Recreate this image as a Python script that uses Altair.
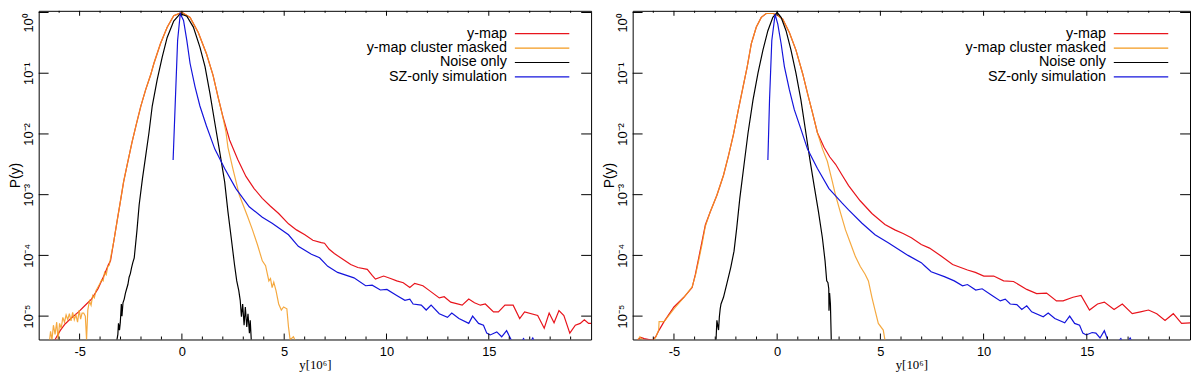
import altair as alt
import pandas as pd

# ---------------- data (x in 1e-6 units, log10 P(y)) ----------------
SERIES = ["y-map", "y-map cluster masked", "Noise only", "SZ-only simulation"]
COLORS = ["#e8141c", "#f39a1e", "#000000", "#1414dc"]

X_MAJOR_TICKS = [-5, 0, 5, 10, 15]
X_MINOR_TICKS = [-6, -4, -3, -2, -1, 1, 2, 3, 4, 6, 7, 8, 9, 11, 12, 13, 14, 16, 17, 18, 19]
Y_TICKS = [1, 0.1, 0.01, 0.001, 0.0001, 0.00001]
Y_TICK_LABELS = ["10⁰", "10⁻¹", "10⁻²", "10⁻³", "10⁻⁴", "10⁻⁵"]

# ----- left panel -----
L_YMAP_X = [-6.3, -6.19, -5.95, -5.71, -5.40, -5.05, -4.75, -4.42, -4.10, -3.78, -3.60, -3.49, -3.33, -3.17,
            -3.01, -2.85, -2.65, -2.44, -2.25, -2.01, -1.77, -1.53, -1.37, -1.05, -0.72, -0.40, 0.0, 0.40,
            0.80, 1.20, 1.52, 1.76, 2.00, 2.33, 2.73, 3.13, 3.53, 3.93, 4.33, 4.73, 5.21, 5.60, 6.01, 6.40,
            6.81, 6.97, 7.20, 7.45, 7.94, 8.25, 8.60, 9.06, 9.30, 9.46, 9.86, 10.2, 10.5, 10.82, 11.14, 11.38,
            11.78, 12.1, 12.58, 12.82, 13.14, 13.70, 14.02, 14.3, 14.59, 14.83, 15.23, 15.47, 15.79, 16.19,
            16.51, 16.75, 17.39, 17.71, 17.95, 18.19, 18.43, 18.67, 18.96, 19.23, 19.47, 19.67, 19.88, 20.0]
L_YMAP_LOGP = [-5.45, -5.38, -5.24, -5.13, -5.03, -4.93, -4.83, -4.72, -4.55, -4.31, -4.16, -4.09, -3.77, -3.44,
               -3.12, -2.79, -2.47, -2.14, -1.87, -1.545, -1.27, -1.03, -0.84, -0.515, -0.244, -0.054, 0.0, -0.08,
               -0.33, -0.68, -1.03, -1.38, -1.71, -2.10, -2.42, -2.70, -2.90, -3.06, -3.19, -3.31, -3.48, -3.58,
               -3.66, -3.75, -3.79, -3.80, -3.90, -3.97, -4.08, -4.15, -4.20, -4.23, -4.33, -4.39, -4.34, -4.38,
               -4.42, -4.45, -4.53, -4.46, -4.50, -4.58, -4.70, -4.68, -4.77, -4.82, -4.72, -4.78, -4.82, -4.80,
               -4.93, -4.93, -4.82, -4.82, -5.04, -4.93, -4.99, -5.20, -4.95, -5.11, -4.91, -4.99, -5.28, -5.15,
               -5.12, -5.06, -5.12, -5.12]

L_MASK_X = [-6.5, -6.42, -6.35, -6.28, -6.2, -6.12, -6.05, -5.98, -5.90, -5.82, -5.74, -5.66, -5.58, -5.50,
            -5.42, -5.34, -5.26, -5.18, -5.10, -5.02, -4.95, -4.88, -4.80, -4.72, -4.66, -4.60, -4.52, -4.44,
            -4.36, -4.28, -4.20, -4.10, -4.00, -3.92, -3.85, -3.78, -3.70, -3.62, -3.55, -3.49, -3.33, -3.17,
            -3.01, -2.85, -2.65, -2.44, -2.25, -2.01, -1.77, -1.53, -1.37, -1.05, -0.72, -0.40, 0.0, 0.40,
            0.80, 1.20, 1.52, 1.76, 2.00, 2.15, 2.25, 2.49, 2.81, 3.21, 3.45, 3.69, 3.93, 4.09, 4.25, 4.33,
            4.41, 4.49, 4.60, 4.73, 4.86, 4.97, 5.13, 5.21, 5.29, 5.45, 5.61, 5.75, 5.85]
L_MASK_LOGP = [-5.50, -5.25, -5.39, -5.15, -5.30, -5.10, -5.39, -5.12, -5.20, -5.02, -5.10, -4.98, -5.06, -4.96,
               -5.08, -4.94, -5.06, -4.98, -5.10, -4.90, -5.05, -4.95, -4.95, -5.00, -5.39, -4.90, -4.75, -4.82,
               -4.66, -4.70, -4.58, -4.52, -4.46, -4.40, -4.42, -4.28, -4.32, -4.18, -4.16, -4.05, -3.77, -3.44,
               -3.12, -2.79, -2.47, -2.14, -1.87, -1.545, -1.27, -1.03, -0.84, -0.515, -0.244, -0.054, 0.0, -0.08,
               -0.33, -0.68, -1.03, -1.38, -1.72, -1.96, -2.22, -2.57, -3.01, -3.36, -3.58, -3.82, -4.09, -4.17,
               -4.42, -4.38, -4.53, -4.44, -4.58, -4.80, -4.90, -4.85, -4.88, -5.18, -5.39, -5.34, -5.45, -5.40,
               -5.50]

L_NOISE_X = [-3.25, -3.17, -3.13, -3.10, -3.05, -3.01, -2.96, -2.93, -2.88, -2.82, -2.76, -2.70, -2.64, -2.58,
             -2.52, -2.46, -2.40, -2.33, -2.20, -2.09, -1.93, -1.77, -1.61, -1.45, -1.21, -0.96, -0.72, -0.40,
             -0.08, 0.24, 0.56, 0.88, 1.13, 1.37, 1.61, 1.85, 2.09, 2.25, 2.41, 2.57, 2.68, 2.78, 2.85, 2.91,
             2.97, 3.04, 3.10, 3.17, 3.23, 3.30, 3.34, 3.39, 3.45]
L_NOISE_LOGP = [-5.50, -5.38, -5.30, -5.12, -5.23, -5.10, -4.80, -5.00, -4.78, -4.72, -4.62, -4.55, -4.48, -4.36,
                -4.30, -4.20, -4.12, -4.04, -3.60, -3.17, -2.74, -2.36, -1.98, -1.54, -1.11, -0.73, -0.41, -0.14,
                -0.02, -0.06, -0.24, -0.57, -0.89, -1.33, -1.82, -2.30, -2.79, -3.28, -3.71, -4.15, -4.42, -4.58,
                -4.74, -5.01, -4.80, -5.15, -4.85, -5.18, -4.96, -5.28, -5.07, -5.39, -5.50]

L_SZ_X = [-0.43, -0.32, -0.21, -0.08, 0.08, 0.24, 0.40, 0.64, 0.88, 1.20, 1.61, 2.09, 2.64, 3.29, 3.93, 4.41,
          5.21, 5.69, 6.33, 6.73, 7.13, 7.61, 8.41, 8.98, 9.30, 9.70, 10.02, 10.5, 10.9, 11.14, 11.30, 11.70,
          11.94, 12.18, 12.58, 12.98, 13.19, 13.54, 14.02, 14.21, 14.50, 14.74, 14.90, 15.07, 15.39, 15.63,
          15.87, 16.11, 16.4, 16.7, 16.9, 17.15, 17.35]
L_SZ_LOGP = [-2.43, -1.44, -0.46, -0.02, -0.13, -0.46, -0.84, -1.22, -1.54, -1.87, -2.25, -2.57, -2.90, -3.20,
             -3.37, -3.47, -3.66, -3.85, -3.98, -4.04, -4.18, -4.28, -4.37, -4.50, -4.49, -4.57, -4.56, -4.66,
             -4.74, -4.72, -4.80, -4.82, -4.90, -4.82, -4.96, -5.02, -4.95, -5.04, -5.12, -5.00, -5.12, -5.15,
             -5.28, -5.31, -5.26, -5.34, -5.24, -5.40, -5.50, -5.37, -5.50, -5.36, -5.50]

# ----- right panel -----
R_YMAP_X = [-6.76, -6.60, -6.44, -6.04, -5.88, -5.72, -5.48, -5.00, -4.52, -4.12, -3.96, -3.80, -3.64, -3.48,
            -3.24, -2.92, -2.60, -2.36, -2.12, -1.88, -1.65, -1.45, -1.25, -1.01, -0.77, -0.53, -0.21, 0.0,
            0.27, 0.59, 0.91, 1.23, 1.47, 1.71, 1.95, 2.27, 2.55, 2.83, 3.15, 3.46, 3.79, 4.02, 4.59, 5.22,
            5.70, 6.10, 6.50, 6.98, 7.38, 7.94, 8.50, 9.22, 9.60, 10.01, 10.49, 10.97, 11.45, 12.09, 12.57,
            13.05, 13.53, 13.85, 14.33, 14.72, 15.13, 15.52, 15.85, 16.32, 16.72, 17.20, 17.60, 17.99, 18.39,
            18.79, 19.19, 19.59, 20.0]
R_YMAP_LOGP = [-5.39, -5.35, -5.37, -5.40, -5.34, -5.23, -5.09, -4.85, -4.69, -4.53, -4.31, -4.04, -3.77, -3.50,
               -3.28, -3.01, -2.68, -2.36, -2.01, -1.60, -1.22, -0.89, -0.51, -0.24, -0.08, -0.016, -0.016, -0.04,
               -0.11, -0.33, -0.62, -1.00, -1.33, -1.65, -1.98, -2.22, -2.38, -2.50, -2.68, -2.85, -3.00, -3.10,
               -3.31, -3.49, -3.58, -3.64, -3.71, -3.82, -3.88, -4.01, -4.15, -4.24, -4.28, -4.34, -4.34, -4.42,
               -4.43, -4.56, -4.63, -4.62, -4.75, -4.75, -4.69, -4.66, -4.90, -4.80, -4.77, -4.89, -4.80, -4.96,
               -4.93, -4.90, -4.96, -5.07, -4.96, -5.12, -5.11]

R_MASK_X = [-6.9, -6.76, -6.65, -6.55, -6.3, -6.04, -5.90, -5.74, -5.72, -5.48, -5.00, -4.52, -4.12, -3.96,
            -3.80, -3.64, -3.48, -3.24, -2.92, -2.60, -2.36, -2.12, -1.88, -1.65, -1.45, -1.25, -1.01, -0.77,
            -0.53, -0.21, 0.0, 0.27, 0.59, 0.91, 1.23, 1.47, 1.71, 1.95, 2.20, 2.43, 2.67, 2.83, 3.07, 3.31,
            3.55, 3.79, 4.02, 4.26, 4.42, 4.59, 4.74, 4.90, 5.14, 5.22, 5.30]
R_MASK_LOGP = [-5.45, -5.40, -5.34, -5.38, -5.42, -5.40, -5.36, -5.23, -5.09, -5.09, -4.88, -4.69, -4.52, -4.33,
               -4.08, -3.82, -3.52, -3.28, -3.01, -2.68, -2.36, -2.01, -1.60, -1.22, -0.89, -0.51, -0.24, -0.08,
               -0.016, -0.016, -0.04, -0.11, -0.33, -0.62, -1.00, -1.33, -1.65, -1.98, -2.25, -2.45, -2.78,
               -3.01, -3.30, -3.58, -3.80, -4.02, -4.18, -4.31, -4.42, -4.69, -4.90, -5.12, -5.23, -5.39, -5.50]

R_NOISE_X = [-3.05, -2.96, -2.92, -2.84, -2.80, -2.76, -2.72, -2.60, -2.44, -2.25, -2.09, -1.96, -1.81, -1.61,
             -1.41, -1.17, -0.93, -0.69, -0.45, -0.21, 0.0, 0.19, 0.43, 0.67, 0.91, 1.15, 1.39, 1.58, 1.79, 2.00,
             2.19, 2.32, 2.40, 2.46, 2.50, 2.51, 2.54, 2.58, 2.62, 2.65]
R_NOISE_LOGP = [-5.50, -5.38, -5.07, -5.23, -5.01, -4.88, -4.80, -4.69, -4.47, -4.20, -3.93, -3.55, -3.06, -2.52,
                -1.98, -1.44, -1.00, -0.62, -0.30, -0.08, 0.0, -0.08, -0.30, -0.62, -1.00, -1.44, -1.98, -2.41,
                -2.85, -3.28, -3.71, -4.09, -4.42, -4.45, -4.55, -4.91, -4.62, -4.80, -5.39, -5.50]

R_SZ_X = [-0.45, -0.37, -0.26, -0.10, 0.03, 0.19, 0.35, 0.59, 0.83, 1.15, 1.47, 1.95, 2.51, 2.83, 3.15, 3.46,
          4.11, 4.74, 5.38, 5.70, 6.34, 6.98, 7.14, 7.46, 8.10, 8.58, 8.98, 9.22, 9.62, 9.93, 10.41, 10.81,
          11.05, 11.29, 11.61, 11.85, 12.09, 12.33, 12.89, 13.13, 13.45, 13.93, 14.17, 14.41, 14.65, 14.81,
          14.97, 15.26, 15.44, 15.64, 15.85, 16.01, 16.3, 16.65, 16.85, 17.1, 17.3]
R_SZ_LOGP = [-2.43, -1.44, -0.46, -0.03, -0.19, -0.51, -0.89, -1.27, -1.60, -1.92, -2.25, -2.57, -2.90, -3.02,
             -3.14, -3.25, -3.47, -3.66, -3.79, -3.86, -4.00, -4.12, -4.17, -4.27, -4.35, -4.42, -4.50, -4.48,
             -4.57, -4.55, -4.66, -4.75, -4.72, -4.80, -4.81, -4.89, -4.83, -4.93, -5.01, -4.95, -5.04, -5.11,
             -5.00, -5.12, -5.15, -5.28, -5.31, -5.27, -5.28, -5.36, -5.24, -5.39, -5.50, -5.37, -5.50, -5.36,
             -5.50]

LEFT = [(L_YMAP_X, L_YMAP_LOGP), (L_MASK_X, L_MASK_LOGP), (L_NOISE_X, L_NOISE_LOGP), (L_SZ_X, L_SZ_LOGP)]
RIGHT = [(R_YMAP_X, R_YMAP_LOGP), (R_MASK_X, R_MASK_LOGP), (R_NOISE_X, R_NOISE_LOGP), (R_SZ_X, R_SZ_LOGP)]

# ---------------- styling ----------------
FONT = "Liberation Sans"
SERIF = "Liberation Serif"
X_DOMAIN = [-7, 20]
Y_DOMAIN = [4.12e-6, 1.066]
H = 332


def y_label_expr():
    expr = "''"
    for v, lab in reversed(list(zip(Y_TICKS, Y_TICK_LABELS))):
        e = len(str(int(round(1 / v)))) - 1
        expr = f"(round(log(datum.value)/LN10) == {-e} ? '{lab}' : {expr})"
    return expr


X_AXIS = alt.Axis(values=X_MAJOR_TICKS, ticks=False, tickSize=0, domain=False, grid=False,
                  labelExpr="datum.value < 0 ? '-' + abs(datum.value) : '' + datum.value",
                  labelFont=FONT, labelFontSize=13, labelPadding=6, labelColor="black",
                  title="y[10⁶]", titleFont=SERIF, titleFontSize=13, titleFontWeight="normal",
                  titleColor="black", titlePadding=0)
Y_AXIS = alt.Axis(values=Y_TICKS, labelExpr=y_label_expr(), ticks=False, tickSize=0, domain=False,
                  grid=False, labelFont=FONT, labelFontSize=13, labelAngle=270, labelAlign="center",
                  labelBaseline="bottom", labelPadding=3, labelColor="black",
                  labelOffset={"condition": {"test": "datum.value > 0.5", "value": 10}, "value": 0},
                  title="P(y)", titleFont=FONT, titleFontSize=14, titleFontWeight="normal",
                  titleColor="black", titlePadding=0)


def panel(data, W):
    xs = alt.Scale(domain=X_DOMAIN, nice=False, zero=False)
    ys = alt.Scale(type="log", domain=Y_DOMAIN, nice=False)
    layers = []
    for k, (name, (xv, lp)) in enumerate(zip(SERIES, data)):
        df = pd.DataFrame({"x": xv, "lp": lp, "i": range(len(xv))})
        layers.append(
            alt.Chart(df).transform_calculate(P="pow(10, datum.lp)")
            .mark_line(color=COLORS[k], strokeWidth=1.2, clip=True,
                       opacity=0.85 if k == 1 else 1.0)
            .encode(x=alt.X("x:Q", scale=xs, axis=X_AXIS),
                    y=alt.Y("P:Q", scale=ys, axis=Y_AXIS),
                    order=alt.Order("i:Q"))
        )
    # inward ticks
    xmaj = pd.DataFrame({"x": X_MAJOR_TICKS})
    xmin = pd.DataFrame({"x": X_MINOR_TICKS})
    yt = pd.DataFrame({"P": Y_TICKS})
    for d, ln in ((xmaj, 6), (xmin, 3)):
        layers.append(alt.Chart(d).mark_rule(color="black", strokeWidth=1).encode(
            x=alt.X("x:Q", scale=xs, axis=X_AXIS), y=alt.value(H), y2=alt.value(H - ln)))
        layers.append(alt.Chart(d).mark_rule(color="black", strokeWidth=1).encode(
            x=alt.X("x:Q", scale=xs, axis=X_AXIS), y=alt.value(0), y2=alt.value(ln - 1)))
    layers.append(alt.Chart(yt).mark_rule(color="black", strokeWidth=1).encode(
        y=alt.Y("P:Q", scale=ys, axis=Y_AXIS), x=alt.value(0), x2=alt.value(10)))
    layers.append(alt.Chart(yt).mark_rule(color="black", strokeWidth=1).encode(
        y=alt.Y("P:Q", scale=ys, axis=Y_AXIS), x=alt.value(W - 10), x2=alt.value(W)))
    # legend (text right-aligned, line sample to the right)
    for k, name in enumerate(SERIES):
        yy = 23 + 14.6 * k
        layers.append(alt.Chart(pd.DataFrame({"series": [name]})).mark_text(
            align="right", baseline="middle", font=FONT, fontSize=14.5, color="black").encode(
            text="series:N", x=alt.value(W - 85), y=alt.value(yy)))
        layers.append(alt.Chart(pd.DataFrame({"series": [name]})).mark_rule(
            color=COLORS[k], strokeWidth=1.2).encode(
            x=alt.value(W - 77), x2=alt.value(W - 22), y=alt.value(yy)))
    return alt.layer(*layers).properties(width=W, height=H)


chart = alt.hconcat(panel(LEFT, 558), panel(RIGHT, 563), spacing=10).properties(
    padding={"left": 0, "top": 0, "right": 1, "bottom": 0}
).configure(background="white").configure_view(stroke="black", strokeWidth=1)

chart.save("out.html", embed_options={"renderer": "svg", "actions": False})
